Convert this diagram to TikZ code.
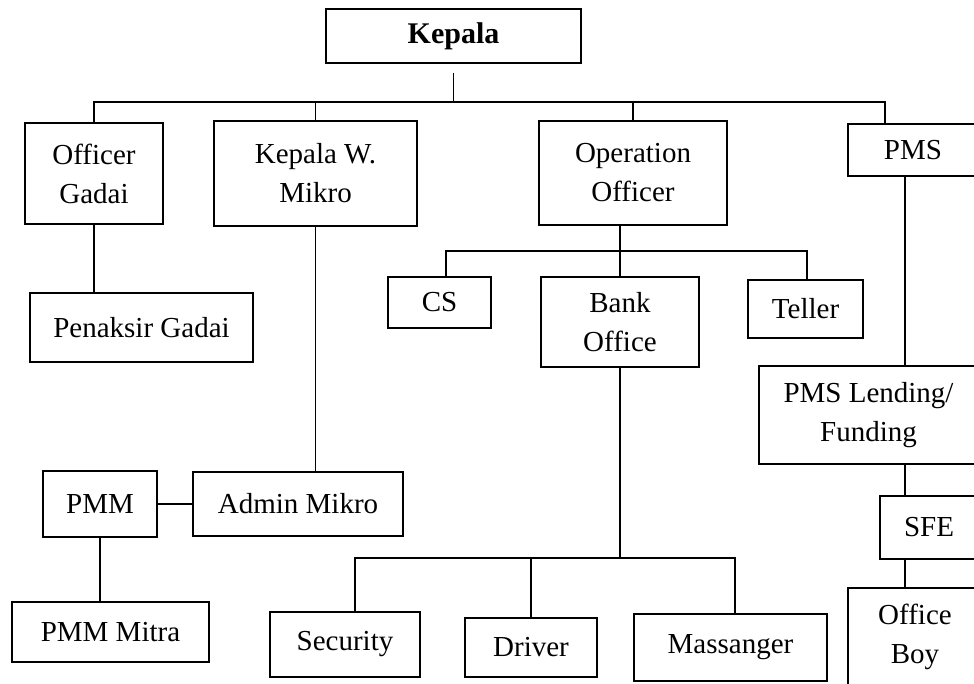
\documentclass[tikz,border=0pt]{standalone}
\usepackage{fontspec}
\setmainfont{Liberation Serif}
\usepackage{tikz}

\begin{document}
\begin{tikzpicture}[x=1pt, y=-1pt, line width=1.8pt,
		unit/.style={rectangle, draw=black, line width=1.8pt, inner sep=0pt, align=center, font=\fontsize{29}{39}\selectfont}]
		\useasboundingbox (0,0) rectangle (974,684);
		\node[unit, minimum width=255pt, minimum height=54pt] (Kepala) at (453.5,36) {\fontsize{30}{39}\selectfont\textbf{Kepala}};
		\node[unit, minimum width=138pt, minimum height=101pt] (OffGadai) at (94,173.5) {Officer\\Gadai};
		\node[unit, minimum width=203pt, minimum height=105pt] (KepMikro) at (315.5,173.5) {Kepala W.\\Mikro};
		\node[unit, minimum width=188pt, minimum height=104pt] (OpOfficer) at (633,173) {Operation\\Officer};
		\node[unit, minimum width=130pt, minimum height=52pt] (PMS) at (913,150) {PMS};
		\node[unit, minimum width=223pt, minimum height=69pt] (Penaksir) at (141.5,327.5) {Penaksir Gadai};
		\node[unit, minimum width=103pt, minimum height=51pt] (CS) at (439.5,302.5) {CS};
		\node[unit, minimum width=158pt, minimum height=90pt] (BankOffice) at (620,322) {Bank\\Office};
		\node[unit, minimum width=115pt, minimum height=58pt] (Teller) at (805.5,309) {Teller};
		\node[unit, minimum width=219pt, minimum height=98pt] (PMSLend) at (868.5,415) {PMS Lending/\\Funding};
		\node[unit, minimum width=210pt, minimum height=64pt] (Admin) at (298,504) {Admin Mikro};
		\node[unit, minimum width=114pt, minimum height=66pt] (PMM) at (100,504) {PMM};
		\node[unit, minimum width=197pt, minimum height=60pt] (PMMMitra) at (110.5,632) {PMM Mitra};
		\node[unit, minimum width=98pt, minimum height=63pt] (SFE) at (929,527.5) {SFE};
		\node[unit, minimum width=150pt, minimum height=65pt] (Security) at (345,644.5) {Security};
		\node[unit, minimum width=132pt, minimum height=59pt] (Driver) at (531,647.5) {Driver};
		\node[unit, minimum width=193pt, minimum height=67pt] (Massanger) at (730.5,647.5) {Massanger};
		\node[unit, minimum width=134pt, minimum height=97pt] (OfficeBoy) at (915,636.5) {Office\\Boy};
		\coordinate (BusL) at (94,102);
		\coordinate (BusR) at (885,102);
		\coordinate (Bus2L) at (446,251);
		\coordinate (Bus2R) at (807,251);
		\coordinate (Bus3L) at (355,558);
		\coordinate (Bus3R) at (735,558);
		\coordinate (RightAxis) at (905,0);
		\draw[shorten <=9pt] (Kepala.south) -- (Kepala.south |- BusL);
		\draw (OffGadai.north) -- (BusL) -- (BusR) -- (BusR |- PMS.north);
		\draw (KepMikro.north) -- (KepMikro.north |- BusL);
		\draw (OpOfficer.north) -- (OpOfficer.north |- BusL);
		\draw (OffGadai) -- (OffGadai |- Penaksir.north);
		\draw (KepMikro) -- (KepMikro |- Admin.north);
		\draw (PMM) -- (Admin);
		\draw (PMM) -- (PMM |- PMMMitra.north);
		\draw (BankOffice.north) -- (BankOffice.north |- OpOfficer.south);
		\draw (CS.north -| Bus2L) -- (Bus2L) -- (Bus2R) -- (Bus2R |- Teller.north);
		\draw (BankOffice.south) -- (BankOffice.south |- Bus3L);
		\draw (Security.north -| Bus3L) -- (Bus3L) -- (Bus3R) -- (Bus3R |- Massanger.north);
		\draw (Driver.north) -- (Driver.north |- Bus3L);
		\draw (PMS.south -| RightAxis) -- (PMSLend.north -| RightAxis);
		\draw (PMSLend.south -| RightAxis) -- (SFE.north -| RightAxis);
		\draw (SFE.south -| RightAxis) -- (OfficeBoy.north -| RightAxis);
	\end{tikzpicture}
\end{document}
